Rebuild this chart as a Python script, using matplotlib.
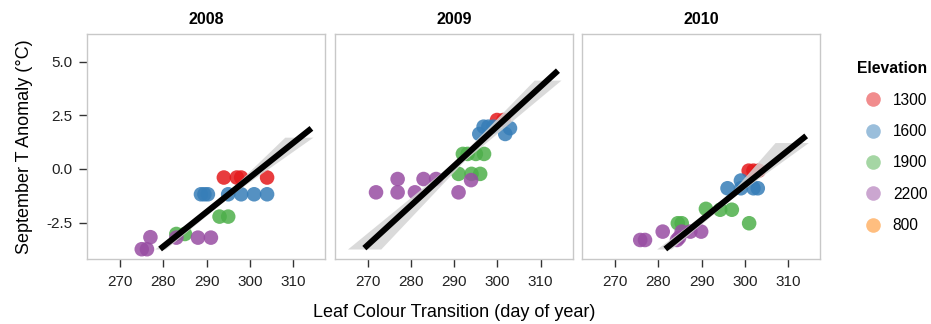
import numpy as np
import matplotlib
matplotlib.use('Agg')
import matplotlib.pyplot as plt
from matplotlib.lines import Line2D

plt.rcParams['font.family'] = ['Liberation Sans', 'DejaVu Sans']
plt.rcParams['axes.unicode_minus'] = False

years = ['2008', '2009', '2010']
elev_levels = ['1300', '1600', '1900', '2200', '800']
elev_colors = ['#E41A1C', '#377EB8', '#4DAF4A', '#984EA3', '#FF7F00']

# leaf colour transition day / september anomaly, per year and elevation
day_2008 = {
    '1300': [294, 297, 298, 304],
    '1600': [288.7, 289.5, 290.3, 295, 298, 301, 304],
    '1900': [283, 285, 293, 295],
    '2200': [275, 276.2, 277, 283, 288, 291],
}
anom_2008 = {
    '1300': [-0.4, -0.4, -0.4, -0.4],
    '1600': [-1.18, -1.18, -1.18, -1.18, -1.18, -1.18, -1.18],
    '1900': [-3.03, -3.03, -2.22, -2.22],
    '2200': [-3.74, -3.74, -3.18, -3.2, -3.2, -3.2],
}
day_2009 = {
    '1300': [299.9, 301.4],
    '1600': [295.8, 296.8, 297.9, 299.1, 301.8, 302.9],
    '1900': [291, 294, 296, 292, 293.1, 295, 296.9],
    '2200': [271.9, 276.9, 280.9, 291, 276.9, 282.9, 285.8, 293.9],
}
anom_2009 = {
    '1300': [2.28, 2.28],
    '1600': [1.63, 1.97, 1.97, 1.97, 1.63, 1.9],
    '1900': [-0.23, -0.23, -0.23, 0.7, 0.7, 0.7, 0.7],
    '2200': [-1.09, -1.09, -1.09, -1.09, -0.47, -0.47, -0.47, -0.52],
}
day_2010 = {
    '1300': [300.9, 302, 303.2],
    '1600': [296, 299.1, 299.1, 302, 303],
    '1900': [284.5, 285.4, 291, 294.3, 297, 301],
    '2200': [275.8, 276.9, 281, 284.3, 285.4, 287.4, 289.9, 284.8],
}
anom_2010 = {
    '1300': [-0.08, -0.08, -0.08],
    '1600': [-0.9, -0.54, -0.9, -0.9, -0.9],
    '1900': [-2.53, -2.53, -1.86, -1.9, -1.9, -2.53],
    '2200': [-3.31, -3.31, -2.92, -3.31, -2.92, -2.92, -2.92, -3.2],
}
days = [day_2008, day_2009, day_2010]
anoms = [anom_2008, anom_2009, anom_2010]

# fitted line end points and confidence band (bottom / middle / top)
fit_x = [[279.24, 314.26], [269.2, 314.0], [281.6, 314.2]]
fit_y = [[-3.73, 1.89], [-3.69, 4.58], [-3.73, 1.54]]
band_y = [[-3.73, -1.1, 1.48], [-3.73, 0.4, 4.14], [-3.73, -1.2, 1.23]]
band_lo = [[278.0, 294.8, 308.1], [265.3, 290.4, 308.5], [279.6, 296.4, 307.0]]
band_hi = [[280.5, 296.4, 314.6], [273.0, 292.4, 314.7], [283.0, 298.0, 314.7]]

fig = plt.figure(figsize=(9.31, 3.24), dpi=100)
lefts = [0.0938, 0.3598, 0.6255]
for i in range(3):
    ax = fig.add_axes([lefts[i], 0.1997, 0.2555, 0.6955])
    for lev, col in zip(elev_levels, elev_colors):
        if lev in days[i]:
            ax.scatter(days[i][lev], anoms[i][lev], s=110, color=col, alpha=0.85,
                       edgecolors='none', zorder=2)
    ax.fill_betweenx(band_y[i], band_lo[i], band_hi[i], color='#d4d4d4',
                     alpha=0.85, linewidth=0, zorder=3)
    ax.plot(fit_x[i], fit_y[i], color='black', lw=4.3, solid_capstyle='butt', zorder=4)
    ax.set_xlim(262.4, 317.45)
    ax.set_ylim(-4.21, 6.29)
    ax.set_xticks([270, 280, 290, 300, 310])
    ax.set_yticks([-2.5, 0, 2.5, 5])
    ax.set_yticklabels(['-2.5', '0.0', '2.5', '5.0'])
    for s in ax.spines.values():
        s.set_color('#c8c8c8')
        s.set_linewidth(1.0)
    ax.tick_params(axis='both', length=6, width=1, color='#333333', labelsize=11,
                   labelcolor='#222222', pad=5)
    if i > 0:
        ax.tick_params(axis='y', left=False, labelleft=False)
    else:
        ax.set_ylabel('September T Anomaly (°C)', fontsize=13, labelpad=9)
    if i == 1:
        ax.set_xlabel('Leaf Colour Transition (day of year)', fontsize=13, labelpad=11)
    ax.set_title(years[i], fontsize=11.5, fontweight='bold', pad=7)

handles = [Line2D([], [], marker='o', ls='none', markersize=10.5, color=c, alpha=0.5,
                  markeredgewidth=0) for c in elev_colors]
leg = fig.legend(handles, elev_levels, title='Elevation', loc='upper left',
                 bbox_to_anchor=(0.914, 0.83), frameon=False, fontsize=11.2,
                 labelspacing=1.05, handletextpad=0.45, borderaxespad=0,
                 handlelength=1.6)
leg.get_title().set_fontweight('bold')
leg.get_title().set_fontsize(11.3)
leg._legend_box.align = 'right'

plt.savefig('out.png', dpi=100)
